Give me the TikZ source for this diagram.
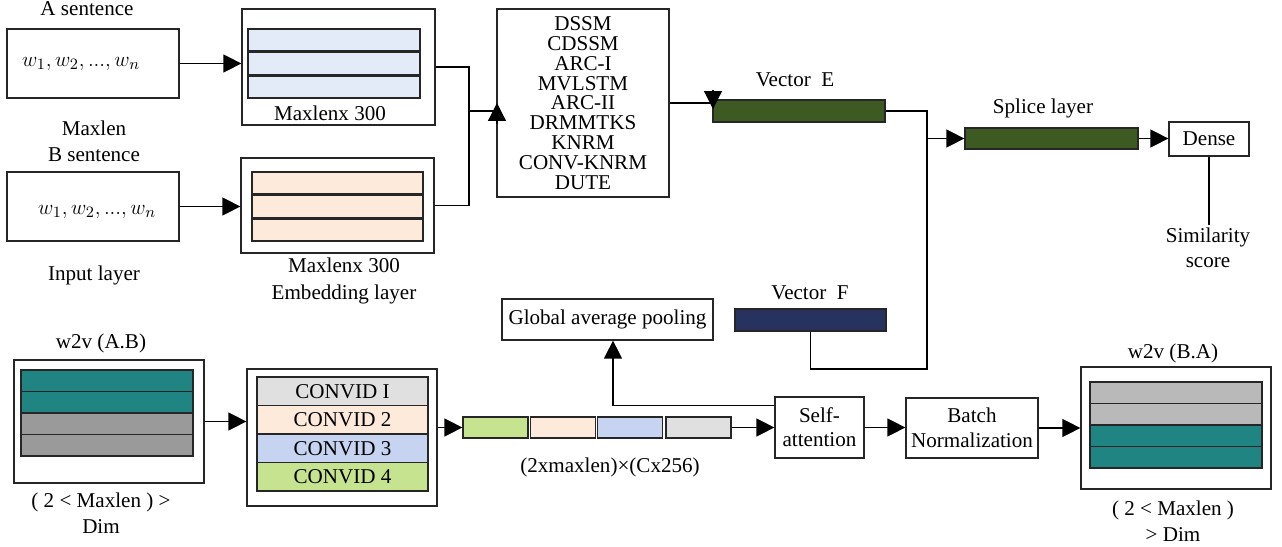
\documentclass[tikz,border=0pt]{standalone}
\usepackage{fontspec}
\setmainfont{Liberation Serif}
\usetikzlibrary{arrows.meta,calc}

\definecolor{linec}{HTML}{262626}
\definecolor{embblue}{HTML}{E3EAF8}
\definecolor{peach}{HTML}{FDEADB}
\definecolor{cgray}{HTML}{E0E0E0}
\definecolor{cblue}{HTML}{C6D4F1}
\definecolor{cgreen}{HTML}{C6E48F}
\definecolor{wteal}{HTML}{1F8482}
\definecolor{grayA}{HTML}{9A9A9A}
\definecolor{grayB}{HTML}{B9B9B9}
\definecolor{dgreen}{HTML}{3C5A22}
\definecolor{navy}{HTML}{27335E}

\tikzset{
  blk/.style={
    draw=linec,
    fill=white,
    inner sep=0pt
  },
  bar/.style={
    draw=linec,
    inner sep=0pt
  },
  sz/.style 2 args={
    minimum width=#1*0.02cm,
    minimum height=#2*0.02cm
  },
  lbl/.style={
    inner sep=1pt,
    align=center
  },
  words/.style={
    font=\fontsize{12.2}{14}\selectfont
  },
  arr/.style={
    -{Triangle[length=3.6mm,width=3.6mm]}
  },
  every picture/.style={
    line width=0.7pt,
    font=\fontsize{12}{14.5}\selectfont
  }
}

\begin{document}
\begin{tikzpicture}[x=0.02cm,y=-0.02cm]
    \useasboundingbox (0,0) rectangle (1282,547);

    % input layer
    \node[lbl] (aTitle) at (87,9) {A sentence};
    \node[blk,sz={172}{69}] (inA) at (93,63.5) {};
    \node[words] (wA) at (81,64) {$w_1, w_2, ..., w_n$};
    \node[lbl] (maxlen) at (94,128) {Maxlen};
    \node[lbl] (bTitle) at (94,155) {B sentence};
    \node[blk,sz={172}{69}] (inB) at (93,206.5) {};
    \node[words] (wB) at (97,212) {$w_1, w_2, ..., w_n$};
    \node[lbl] (inLbl) at (94,275) {Input layer};

    % embedding layer
    \node[blk,sz={193}{116}] (embA) at (338.5,67) {};
    \foreach \y in {29,52.5,76}
        \filldraw[fill=embblue,draw=linec] (248,\y) rectangle (420,\y+22);
    \node (embALbl) at (330,113) {Maxlenx 300};
    \node[blk,sz={193}{95}] (embB) at (337.5,205.5) {};
    \foreach \y in {172,195.5,219}
        \filldraw[fill=peach,draw=linec] (252,\y) rectangle (423,\y+22);
    \node[lbl,font=\fontsize{12}{15.3}\selectfont] (embLbl) at (344,281) {Maxlenx 300\\Embedding layer};

    \draw[arr] (inA.east) -- (inA.east -| embA.west);
    \draw[arr] (inB.east) -- (inB.east -| embB.west);

    % matching models
    \node[blk,sz={172}{188},align=center,font=\fontsize{12}{11.3}\selectfont] (models) at (583,103)
        {DSSM\\CDSSM\\ARC-I\\MVLSTM\\ARC-II\\DRMMTKS\\KNRM\\CONV-KNRM\\DUTE};
    \coordinate (jA) at (469,111);
    \coordinate (upB) at (497,124);
    \coordinate (upT) at (497,103);
    \draw (embA.east) -| (jA) -- (jA -| models.west);
    \draw (embB.east) -| (jA);
    \draw[arr] (upB) -- (upT);

    % vector E, splice layer, dense
    \node[bar,fill=dgreen,sz={172}{22}] (vecE) at (799,111) {};
    \node (vecELbl) at (795,80) {Vector\enspace E};
    \coordinate (dnB) at (713,90);
    \coordinate (dnT) at (713,109);
    \draw (models.east) -- (models.east -| vecE.west);
    \draw[arr] (dnB) -- (dnT);

    \node[bar,fill=dgreen,sz={173}{21}] (splice) at (1051.5,138.5) {};
    \node (spliceLbl) at (1043,108) {Splice layer};
    \node[blk,sz={80}{34}] (dense) at (1209,139) {Dense};
    \node[lbl] (sim) at (1208,248) {Similarity\\score};

    % vector F, pooling
    \node[bar,fill=navy,sz={151}{22}] (vecF) at (810.5,320) {};
    \node (vecFLbl) at (810,293) {Vector\enspace F};
    \node[blk,sz={211}{41}] (gap) at (607.5,319.5) {Global average pooling};

    \coordinate (jE) at (927,111);
    \coordinate (jF) at (927,369);
    \draw (vecE.east) -- (jE) -- (jF) -| (vecF.south);
    \draw[arr] (jE |- splice.west) -- (splice.west);
    \draw[arr] (splice.east) -- (splice.east -| dense.west);
    \draw (dense.south) -- (dense.south |- sim.north);

    % w2v (A.B)
    \node (abLbl) at (101,343) {w2v (A.B)};
    \node[blk,sz={190}{123}] (ab) at (109,421.5) {};
    \foreach \y/\c in {370/wteal,391.5/wteal,413/grayA,434.5/grayA}
        \filldraw[fill=\c,draw=linec] (21,\y) rectangle (193,\y+21.5);
    \node[lbl] (abDim) at (101,513) {( 2 < Maxlen ) >\\Dim};

    % convolutions
    \node[blk,sz={190}{137}] (cv) at (342,437.5) {};
    \foreach \i/\c/\t in {1/cgray/I,2/peach/2,3/cblue/3,4/cgreen/4}
        \node[bar,fill=\c,sz={171}{28.5}] (cv\i) at ({342.5},{362.75+28.5*\i}) {CONVID \t};

    % concatenated features
    \foreach \i/\x/\c in {1/495.5/cgreen,2/563/peach,3/630/cblue,4/698.5/cgray}
        \node[bar,fill=\c,sz={65}{21}] (c\i) at (\x,427.5) {};
    \node (catLbl) at (610,467) {(2xmaxlen)×(Cx256)};

    \node[blk,sz={89}{61},align=center,font=\fontsize{12}{13.6}\selectfont] (sa) at (819.5,427.5) {Self-\\attention};
    \node[blk,sz={132}{60},align=center] (bn) at (972,428) {Batch\\Normalization};

    % w2v (B.A)
    \node (baLbl) at (1173,353) {w2v (B.A)};
    \node[blk,sz={190}{122}] (ba) at (1176,428) {};
    \foreach \y/\c in {382/grayB,403.5/grayB,425/wteal,446.5/wteal}
        \filldraw[fill=\c,draw=linec] (1090,\y) rectangle (1262,\y+21.5);
    \node[lbl] (baDim) at (1173,521) {( 2 < Maxlen )\\> Dim};

    \draw[arr] (ab.east) -- (ab.east -| cv.west);
    \draw[arr] (cv.east |- c1.west) -- (c1.west);
    \draw[arr] (c4.east) -- (sa.west);
    \draw[arr] ([yshift=-1.8mm]sa.north west) -| ([xshift=1.1mm]gap.south);
    \draw[arr] (sa.east) -- (sa.east -| bn.west);
    \draw[arr] (bn.east) -- (bn.east -| ba.west);
    % \draw (sim.south) -- ++(0,20);
\end{tikzpicture}
\end{document}
